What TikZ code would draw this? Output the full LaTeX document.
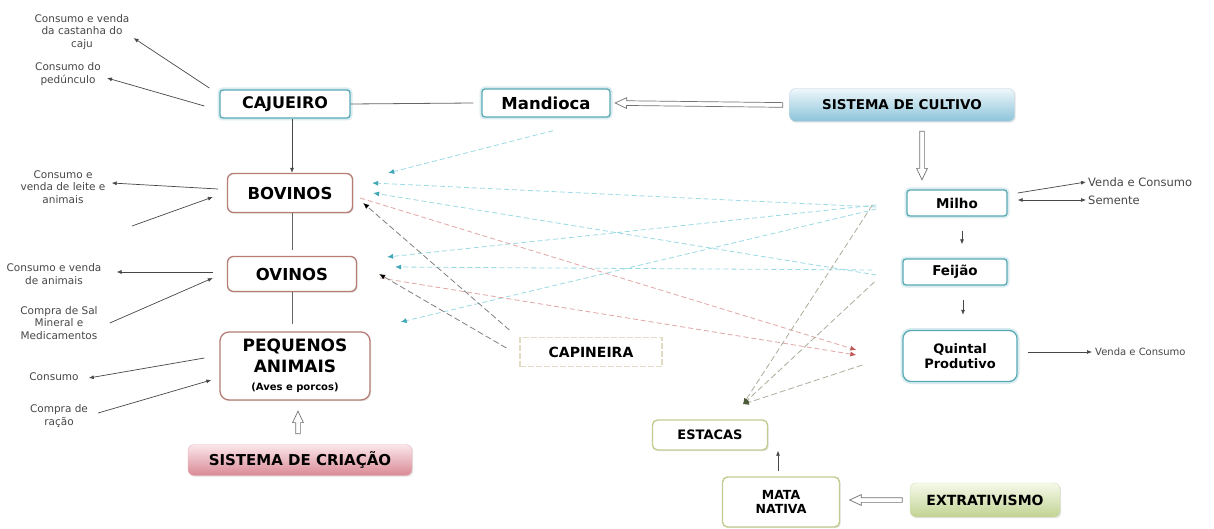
\documentclass[tikz,border=0pt]{standalone}
\usepackage{fontspec}
\setmainfont{DejaVu Sans}
\usetikzlibrary{arrows.meta,shapes.arrows,shadows,calc}

\definecolor{tealline}{HTML}{58AAB6}
\definecolor{roseline}{HTML}{B57D74}
\definecolor{oliveline}{HTML}{C3CC90}
\definecolor{capline}{HTML}{E3DCC4}
\definecolor{culttop}{HTML}{EEF7FB}
\definecolor{cultbot}{HTML}{8CC3DA}
\definecolor{criatop}{HTML}{FBE6EA}
\definecolor{criabot}{HTML}{D98A95}
\definecolor{extrtop}{HTML}{F6F9EA}
\definecolor{extrbot}{HTML}{C1D392}
\definecolor{feedc}{HTML}{9ADAE4}
\definecolor{feedhead}{HTML}{3FA6B5}
\definecolor{manurec}{HTML}{E2A6A6}
\definecolor{manurehead}{HTML}{C05858}
\definecolor{stakec}{HTML}{A9AE9A}
\definecolor{stakehead}{HTML}{4D5A3A}

\newcommand\bxf[2]{\fontsize{#1}{#2}\selectfont\bfseries}

\tikzset{
  shade/.style={drop shadow={shadow xshift=1.2pt, shadow yshift=-1.2pt, opacity=0.22}},
  tealbox/.style={draw=tealline, line width=1.3pt, fill=white, rounded corners=3pt,
    align=center, inner sep=0pt, preaction={draw=tealline!22, line width=5pt}},
  rosebox/.style={draw=roseline, line width=1.3pt, fill=white, rounded corners=6pt,
    align=center, inner sep=0pt, shade},
  olivebox/.style={draw=oliveline, line width=1.4pt, fill=white, rounded corners=5pt,
    align=center, inner sep=0pt, shade},
  capbox/.style={draw=capline, line width=1.2pt, dash pattern=on 6pt off 2pt, fill=white,
    align=center, inner sep=0pt},
  gradbox/.style={rounded corners=6pt, align=center, inner sep=0pt, shade},
  lbl/.style={font=\fontsize{10.5}{12.5}\selectfont, text=black!72, align=center, inner sep=0pt},
  arr/.style={-{Latex[length=5pt,width=4pt]}, line width=0.7pt, draw=black!72},
  plain/.style={line width=0.8pt, draw=black!60},
  hollow/.style={single arrow, draw=black!55, fill=white, line width=0.7pt, inner sep=2pt,
    single arrow head extend=3pt, single arrow head indent=0pt, single arrow tip angle=50},
  feed/.style={line width=0.8pt, draw=feedc, dash pattern=on 5pt off 3pt,
    -{Latex[length=6pt,width=5pt,color=feedhead]}},
  manure/.style={line width=0.8pt, draw=manurec, dash pattern=on 5pt off 3pt,
    -{Latex[length=6pt,width=5pt,color=manurehead]}},
  grass/.style={line width=0.8pt, draw=black!50, dash pattern=on 6pt off 3pt,
    -{Latex[length=6pt,width=5pt,color=black]}},
  stake/.style={line width=0.8pt, draw=stakec, dash pattern=on 6pt off 3pt,
    -{Latex[length=6pt,width=5pt,color=stakehead]}},
}

% a hollow block arrow running from #1 to #2
\newcommand\hollowarrow[2]{%
  \path let \p1=(#1), \p2=(#2), \n1={veclen(\x2-\x1,\y2-\y1)},
    \n2={atan2(\y2-\y1,\x2-\x1)} in
    node[hollow, minimum height=\n1, rotate=\n2] at ($(\p1)!0.5!(\p2)$) {};}

\begin{document}
\begin{tikzpicture}[x=1pt,y=-1pt]
\useasboundingbox (0,0) rectangle (1214,529);
\fill[white] (0,0) rectangle (1214,529);

% ---------- boxes ----------
\node[tealbox, minimum width=130pt, minimum height=28pt, font=\bxf{16}{16}] (caj) at (285,104) {CAJUEIRO};
\node[tealbox, minimum width=128pt, minimum height=28pt, font=\bxf{16.5}{16}] (mand) at (546,103) {Mandioca};
\node[gradbox, top color=culttop, bottom color=cultbot, draw=cultbot!80!black!40,
      minimum width=225pt, minimum height=33pt, font=\bxf{13.5}{14}] (cult) at (902,105) {SISTEMA DE CULTIVO};
\node[tealbox, minimum width=100pt, minimum height=26pt, font=\bxf{13.5}{14}] (milho) at (957,203) {Milho};
\node[tealbox, minimum width=104pt, minimum height=26pt, font=\bxf{13.5}{14}] (feijao) at (955,272) {Feijão};
\node[tealbox, rounded corners=8pt, minimum width=114pt, minimum height=51pt, font=\bxf{13}{15}] (quintal) at (960,356) {Quintal\\Produtivo};

\node[rosebox, minimum width=125pt, minimum height=39pt, font=\bxf{16.5}{16}] (bov) at (290,193) {BOVINOS};
\node[rosebox, minimum width=129pt, minimum height=35pt, font=\bxf{16.5}{16}] (ovi) at (292,274) {OVINOS};
\node[rosebox, rounded corners=9pt, minimum width=150pt, minimum height=68pt, font=\bxf{17}{21}] (peq) at (295,366)
  {PEQUENOS\\ANIMAIS\\[-3pt]{\bxf{10}{12}(Aves e porcos)}};
\node[gradbox, top color=criatop, bottom color=criabot, draw=criabot!60,
      minimum width=224pt, minimum height=31pt, font=\bxf{15}{15}] (cria) at (300,460) {SISTEMA DE CRIAÇÃO};

\node[capbox, minimum width=142pt, minimum height=29pt, font=\bxf{14}{14}] (cap) at (591,352) {CAPINEIRA};
\node[olivebox, minimum width=115pt, minimum height=30pt, font=\bxf{13}{13}] (est) at (710,435) {ESTACAS};
\node[olivebox, minimum width=117pt, minimum height=50pt, font=\bxf{12.5}{14.5}] (mata) at (781,502) {MATA\\NATIVA};
\node[gradbox, top color=extrtop, bottom color=extrbot, draw=extrbot!70,
      minimum width=150pt, minimum height=34pt, font=\bxf{14}{14}] (extr) at (985,500) {EXTRATIVISMO};

% ---------- side labels ----------
\node[lbl] (l1) at (82,32) {Consumo e venda\\da castanha do\\caju};
\node[lbl] (l2) at (68,74) {Consumo do\\pedúnculo};
\node[lbl] (l3) at (63,187) {Consumo e\\venda de leite e\\animais};
\node[lbl] (l4) at (54,274) {Consumo e venda\\de animais};
\node[lbl] (l5) at (59,323) {Compra de Sal\\Mineral e\\Medicamentos};
\node[lbl] (l6) at (54,377) {Consumo};
\node[lbl] (l7) at (59,416) {Compra de\\ração};
\node[lbl, anchor=west, font=\fontsize{11.5}{13}\selectfont] (r1) at (1088,182) {Venda e Consumo};
\node[lbl, anchor=west, font=\fontsize{11.5}{13}\selectfont] (r2) at (1088,200) {Semente};
\node[lbl, anchor=west, font=\fontsize{10}{12}\selectfont] (r3) at (1095,352) {Venda e Consumo};
\coordinate (loose) at (132,226);

% ---------- solid connectors ----------
\draw[arr] ([shift={(-10,-16)}]caj.west) -- ([shift={(4,6)}]l1.east);
\draw[arr] ([shift={(-15,2)}]caj.west) -- ([shift={(6,4)}]l2.east);
\draw[plain] (caj.east) -- ([xshift=-8]mand.west);
\draw[arr] ([xshift=7]caj.south) -- ([xshift=2]bov.north);
\draw[arr] ([shift={(-9,-4)}]bov.west) -- ([shift={(6,-4)}]l3.east);
\draw[arr] (loose) -- ([shift={(-14,4)}]bov.west);
\draw[plain] ([xshift=2]bov.south) -- ([shift={(0,-6)}]ovi.north);
\draw[arr] ([shift={(-14,-2)}]ovi.west) -- ([shift={(15,-2)}]l4.east);
\draw[arr] ([shift={(12,0)}]l5.east) -- ([shift={(-14,4)}]ovi.west);
\draw[plain] (ovi.south) -- ([shift={(-3,-7)}]peq.north);
\draw[arr] ([shift={(-15,-8)}]peq.west) -- ([shift={(10,1)}]l6.east);
\draw[arr] ([shift={(10,-3)}]l7.east) -- ([shift={(-8,14)}]peq.west);

\draw[arr] ([shift={(10,-10)}]milho.east) -- ([xshift=-2]r1.west);
\draw[{Latex[length=5pt,width=4pt]}-{Latex[length=5pt,width=4pt]}, line width=0.7pt, draw=black!72]
  ([shift={(10,-3)}]milho.east) -- ([xshift=-2]r2.west);
\draw[arr] ([shift={(5,14)}]milho.south) -- ([shift={(7,-14)}]feijao.north);
\draw[arr] ([shift={(8,14)}]feijao.south) -- ([shift={(3,-15)}]quintal.north);
\draw[arr] ([shift={(10,-4)}]quintal.east) -- ([xshift=-3]r3.west);
\draw[arr] ([shift={(-3,-5)}]mata.north) -- ([xshift=68]est.south);

% ---------- block arrows ----------
\hollowarrow{[xshift=-4]cult.west}{[xshift=7]mand.east}
\hollowarrow{[shift={(20,7)}]cult.south}{[shift={(-35,-12)}]milho.north}
\hollowarrow{[shift={(-2,-8)}]cria.north}{[shift={(3,13)}]peq.south}
\hollowarrow{[xshift=-5]extr.west}{[shift={(12,-2)}]mata.east}

% ---------- dashed flows ----------
\draw[feed] ([shift={(7,13)}]mand.south) -- ([shift={(35,-20)}]bov.east);
\draw[feed] ([shift={(-30,4)}]milho.west) -- ([shift={(19,-10)}]bov.east);
\draw[feed] ([shift={(-26,3)}]feijao.west) -- ([shift={(20,0)}]bov.east);
\draw[feed] ([shift={(-30,2)}]milho.west) -- ([shift={(30,-17)}]ovi.east);
\draw[feed] ([shift={(-30,-2)}]feijao.west) -- ([shift={(38,-7)}]ovi.east);
\draw[feed] ([shift={(-30,6)}]milho.west) -- ([shift={(30,-44)}]peq.east);

\draw[manure] ([shift={(7,5)}]bov.east) -- ([shift={(-46,-6)}]quintal.west);
\draw[manure] ([shift={(23,4)}]ovi.east) -- ([shift={(-46,-1)}]quintal.west);

\draw[grass] ([shift={(-10,-22)}]cap.west) -- ([shift={(10,10)}]bov.east);
\draw[grass] ([shift={(-13,-4)}]cap.west) -- ([shift={(22,0)}]ovi.east);

\draw[stake] ([shift={(-34,2)}]milho.west) -- ([shift={(33,-15)}]est.north);
\draw[stake] ([shift={(-28,10)}]feijao.west) -- ([shift={(33,-15)}]est.north);
\draw[stake] ([shift={(-40,9)}]quintal.west) -- ([shift={(33,-15)}]est.north);
\end{tikzpicture}
\end{document}
